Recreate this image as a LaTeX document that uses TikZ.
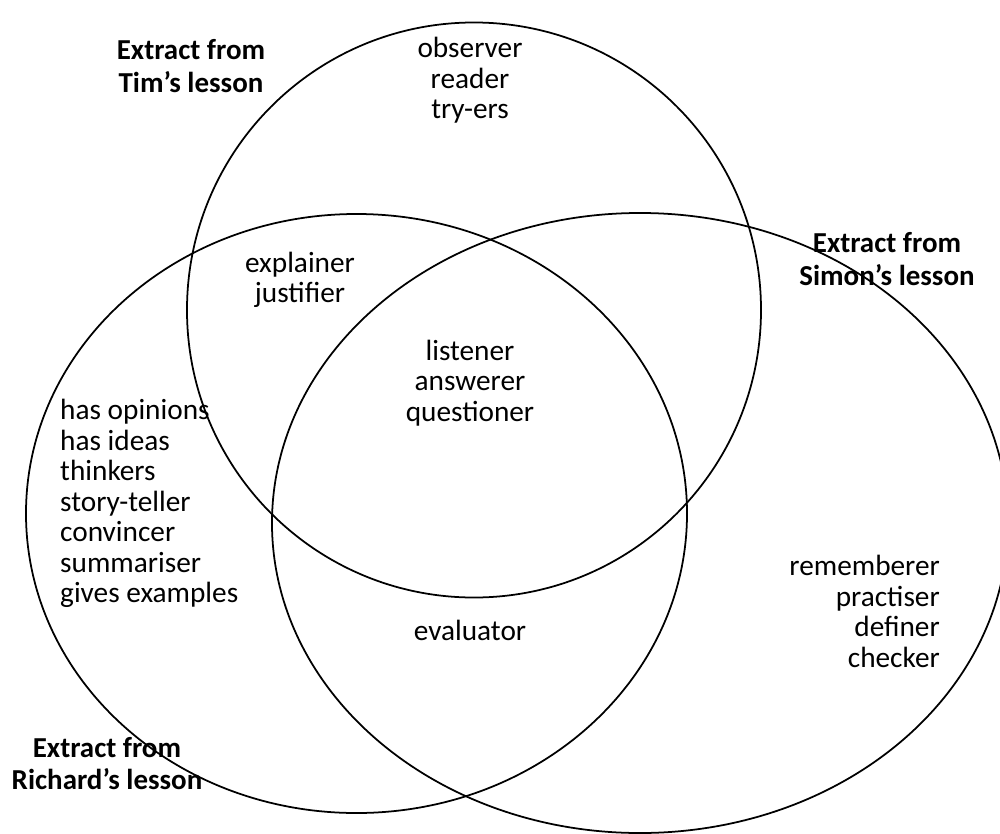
\documentclass[tikz,border=0pt]{standalone}
\usepackage{fontspec}
\setmainfont{Carlito}
\usetikzlibrary{shapes.geometric}
\begin{document}
\begin{tikzpicture}[x=0.03cm,y=-0.03cm,
  set/.style={draw, ellipse, line width=1.5pt, inner sep=0pt, outer sep=0pt},
  roles/.style={font=\fontsize{25}{26}\selectfont, inner sep=0pt},
  title/.style={font=\fontsize{24.7}{28}\selectfont\bfseries, align=center, inner sep=0pt}]
\useasboundingbox (0,0) rectangle (1000,834);

% the three lessons
\node[set, minimum width=17.22cm, minimum height=17.25cm] (tim) at (474,310) {};
\node[set, minimum width=19.83cm, minimum height=17.97cm] (richard) at (356.5,513.5) {};
\node[set, minimum width=22.08cm, minimum height=18.6cm] (simon) at (640,523) {};

% lesson titles
\node[title] (timT) at (191,66) {Extract from\\Tim’s lesson};
\node[title] (simonT) at (887,259) {Extract from\\Simon’s lesson};
\node[title] (richardT) at (107,763.5) {Extract from\\Richard’s lesson};

% roles in each region
\node[roles, align=center] (onlyTim) at (470,80.5) {observer\\reader\\try-ers};
\node[roles, align=center] (timRichard) at (300,280) {explainer\\justifier};
\node[roles, align=center] (all) at (470,383) {listener\\answerer\\questioner};
\node[roles, align=left, anchor=west] (onlyRichard) at (60,503.5) {has opinions\\has ideas\\thinkers\\story-teller\\convincer\\summariser\\gives examples};
\node[roles, align=center] (richardSimon) at (470,630) {evaluator};
\node[roles, align=right, anchor=east] (onlySimon) at (940,611.5) {rememberer\\practiser\\definer\\checker};
\end{tikzpicture}
\end{document}
